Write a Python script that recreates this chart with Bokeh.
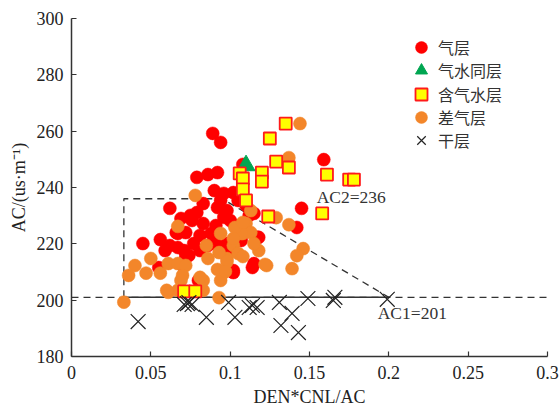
from bokeh.plotting import figure
from bokeh.models import Range1d, Legend, LegendItem, FixedTicker
from bokeh.embed import file_html
from bokeh.resources import INLINE
from bokeh.core.properties import value

# 气层 (gas layer)
gas_x = [0.089, 0.094, 0.079, 0.086, 0.092, 0.108, 0.159, 0.145, 0.096, 0.062,
         0.045, 0.056, 0.059, 0.055, 0.067, 0.072, 0.075, 0.079, 0.083, 0.077,
         0.081, 0.071, 0.067, 0.074, 0.092, 0.088, 0.091, 0.096, 0.080, 0.098,
         0.094, 0.069, 0.076, 0.083, 0.098, 0.115, 0.100, 0.142, 0.118, 0.114,
         0.102, 0.072, 0.102, 0.115, 0.117, 0.098, 0.066, 0.105, 0.110, 0.103,
         0.090, 0.102, 0.112, 0.081, 0.086, 0.091, 0.062, 0.070, 0.107, 0.108]
gas_y = [259.2, 256.0, 243.6, 244.6, 245.3, 248.2, 249.9, 232.6, 237.9, 232.6,
         220.1, 221.5, 217.6, 211.6, 223.7, 224.0, 230.1, 231.1, 227.2, 220.1,
         217.6, 217.6, 218.7, 215.9, 232.9, 223.7, 220.1, 229.4, 207.0, 220.1,
         235.4, 229.0, 228.3, 234.3, 231.8, 230.8, 228.3, 225.8, 222.3, 211.6,
         209.8, 215.2, 210.5, 213.0, 222.3, 216.6, 224.0, 235.4, 233.6, 226.5,
         238.9, 238.2, 230.1, 223.0, 219.4, 226.5, 219.4, 212.3, 221.2, 225.5]

# 气水同层 (gas-water layer)
gw_x = [0.110]
gw_y = [247.8]

# 含气水层 (gas-bearing water layer)
gbw_x = [0.135, 0.125, 0.129, 0.137, 0.106, 0.120, 0.120, 0.108, 0.108, 0.110,
         0.161, 0.175, 0.178, 0.158, 0.124, 0.071, 0.078]
gbw_y = [262.7, 257.4, 249.2, 247.1, 245.0, 245.3, 242.1, 243.2, 239.3, 235.4,
         244.6, 242.8, 242.8, 230.8, 229.7, 203.1, 203.1]

# 差气层 (poor gas layer)
poor_x = [0.144, 0.137, 0.078, 0.067, 0.129, 0.137, 0.146, 0.142, 0.139, 0.123,
          0.118, 0.110, 0.108, 0.113, 0.102, 0.105, 0.098, 0.096, 0.094, 0.108,
          0.094, 0.085, 0.093, 0.050, 0.040, 0.036, 0.047, 0.056, 0.061, 0.067,
          0.072, 0.070, 0.069, 0.061, 0.067, 0.083, 0.083, 0.081, 0.086, 0.092,
          0.098, 0.033, 0.093, 0.097, 0.060, 0.107, 0.115, 0.122, 0.103, 0.108,
          0.113, 0.102]
poor_y = [262.7, 250.6, 237.2, 226.2, 229.3, 226.8, 218.3, 215.8, 211.2, 212.3,
          217.6, 227.2, 223.7, 224.0, 219.4, 216.6, 214.8, 209.8, 207.0, 215.5,
          223.7, 219.4, 216.9, 214.8, 212.3, 208.8, 209.6, 209.6, 213.0, 213.0,
          212.3, 208.8, 207.0, 202.8, 203.5, 207.0, 203.5, 208.1, 214.8, 210.9,
          213.7, 199.3, 200.9, 210.2, 203.5, 223.7, 220.1, 212.7, 225.8, 227.6,
          231.8, 221.9]

# 干层 (dry layer)
dry_x = [0.042, 0.071, 0.073, 0.074, 0.076, 0.085, 0.099, 0.103, 0.112, 0.114,
         0.117, 0.131, 0.139, 0.132, 0.143, 0.149, 0.165, 0.166, 0.199]
dry_y = [192.4, 198.5, 198.8, 199.1, 198.5, 193.9, 199.2, 193.9, 197.4, 198.1,
         197.4, 199.2, 195.3, 191.0, 188.5, 200.6, 199.9, 201.0, 200.3]

# Cut-off lines
AC1 = 201
AC2 = 236
box_left = 0.033
ac2_end = 0.095
ac1_end = 0.2

x_ticks = [0, 0.05, 0.1, 0.15, 0.2, 0.25, 0.3]
x_tick_labels = ["0", "0.05", "0.1", "0.15", "0.2", "0.25", "0.3"]
y_ticks = [180, 200, 220, 240, 260, 280, 300]

SERIF = "Liberation Serif"
CJK = "Noto Sans CJK SC"

p = figure(width=559, height=411, output_backend="svg", toolbar_location=None,
           x_range=Range1d(0, 0.3), y_range=Range1d(180, 300),
           min_border_left=71, min_border_right=12, min_border_top=18,
           min_border_bottom=55)
p.outline_line_color = None
p.xgrid.visible = False
p.ygrid.visible = False
p.background_fill_color = "white"

for ax in (p.xaxis[0], p.yaxis[0]):
    ax.axis_line_color = "#333333"
    ax.axis_line_width = 1.5
    ax.major_tick_line_color = "#333333"
    ax.major_tick_line_width = 1.2
    ax.major_tick_in = 5
    ax.major_tick_out = 0
    ax.minor_tick_line_color = None
    ax.major_label_text_font = SERIF
    ax.major_label_text_font_size = "18px"
    ax.major_label_text_color = "#222222"
    ax.axis_label_text_font = SERIF
    ax.axis_label_text_font_size = "18px"
    ax.axis_label_text_font_style = "normal"
    ax.axis_label_text_color = "#222222"

p.xaxis.ticker = FixedTicker(ticks=x_ticks)
p.xaxis.major_label_overrides = {t: s for t, s in zip(x_ticks, x_tick_labels)}
p.yaxis.ticker = FixedTicker(ticks=y_ticks)
p.xaxis.axis_label = "DEN*CNL/AC"
p.yaxis.axis_label = "AC/(us·m⁻¹)"
p.xaxis.major_label_standoff = 9
p.xaxis.axis_label_standoff = 5
p.yaxis.major_label_standoff = 8
p.yaxis.axis_label_standoff = 5

# boundary lines
p.line([0, 0.3], [AC1, AC1], line_color="#333333", line_width=1.3, line_dash="7 5")
p.line([box_left, ac1_end], [AC1, AC1], line_color="#333333", line_width=1.5)
p.line([box_left, box_left, ac2_end, ac1_end], [AC1, AC2, AC2, AC1],
       line_color="#333333", line_width=1.3, line_dash="7 5")

r_gas = p.scatter(gas_x, gas_y, marker="circle", size=13, fill_color="#FF0000",
                  line_color="#FF0000", line_width=0.5)
r_poor = p.scatter(poor_x, poor_y, marker="circle", size=13, fill_color="#F3862A",
                   line_color="#F3862A", line_width=0.5)
r_gw = p.scatter(gw_x, gw_y, marker="triangle", size=18, fill_color="#00A651",
                 line_color="#00A651")
r_gbw = p.scatter(gbw_x, gbw_y, marker="square", size=12, fill_color="#FFFF00",
                  line_color="#FF1A1A", line_width=1.8)
r_dry = p.scatter(dry_x, dry_y, marker="x", size=21, line_color="#222222",
                  line_width=1.2)

p.text(x=[0.1545], y=[236.5], text=[f"AC2={AC2}"], text_font=value(SERIF),
       text_font_size="17.5px", text_color="#333333", text_baseline="middle",
       text_align="left")
p.text(x=[0.193], y=[195.3], text=[f"AC1={AC1}"], text_font=value(SERIF),
       text_font_size="17.5px", text_color="#333333", text_baseline="middle",
       text_align="left")

# one single-entry legend per series, stacked with a fixed row pitch
legend_entries = [("气层", r_gas), ("气水同层", r_gw), ("含气水层", r_gbw),
                  ("差气层", r_poor), ("干层", r_dry)]
row_pitch = 23.3
top_row_bottom = 294
for i, (label, rend) in enumerate(legend_entries):
    lg = Legend(items=[LegendItem(label=label, renderers=[rend])],
                location=(335, top_row_bottom - i * row_pitch),
                glyph_width=30, glyph_height=30, padding=0, margin=0,
                label_standoff=2, label_height=20,
                border_line_color=None, background_fill_alpha=0,
                label_text_font=CJK, label_text_font_size="16px",
                label_text_color="#333333")
    p.add_layout(lg)

open("out.html", "w").write(file_html(p, INLINE))
